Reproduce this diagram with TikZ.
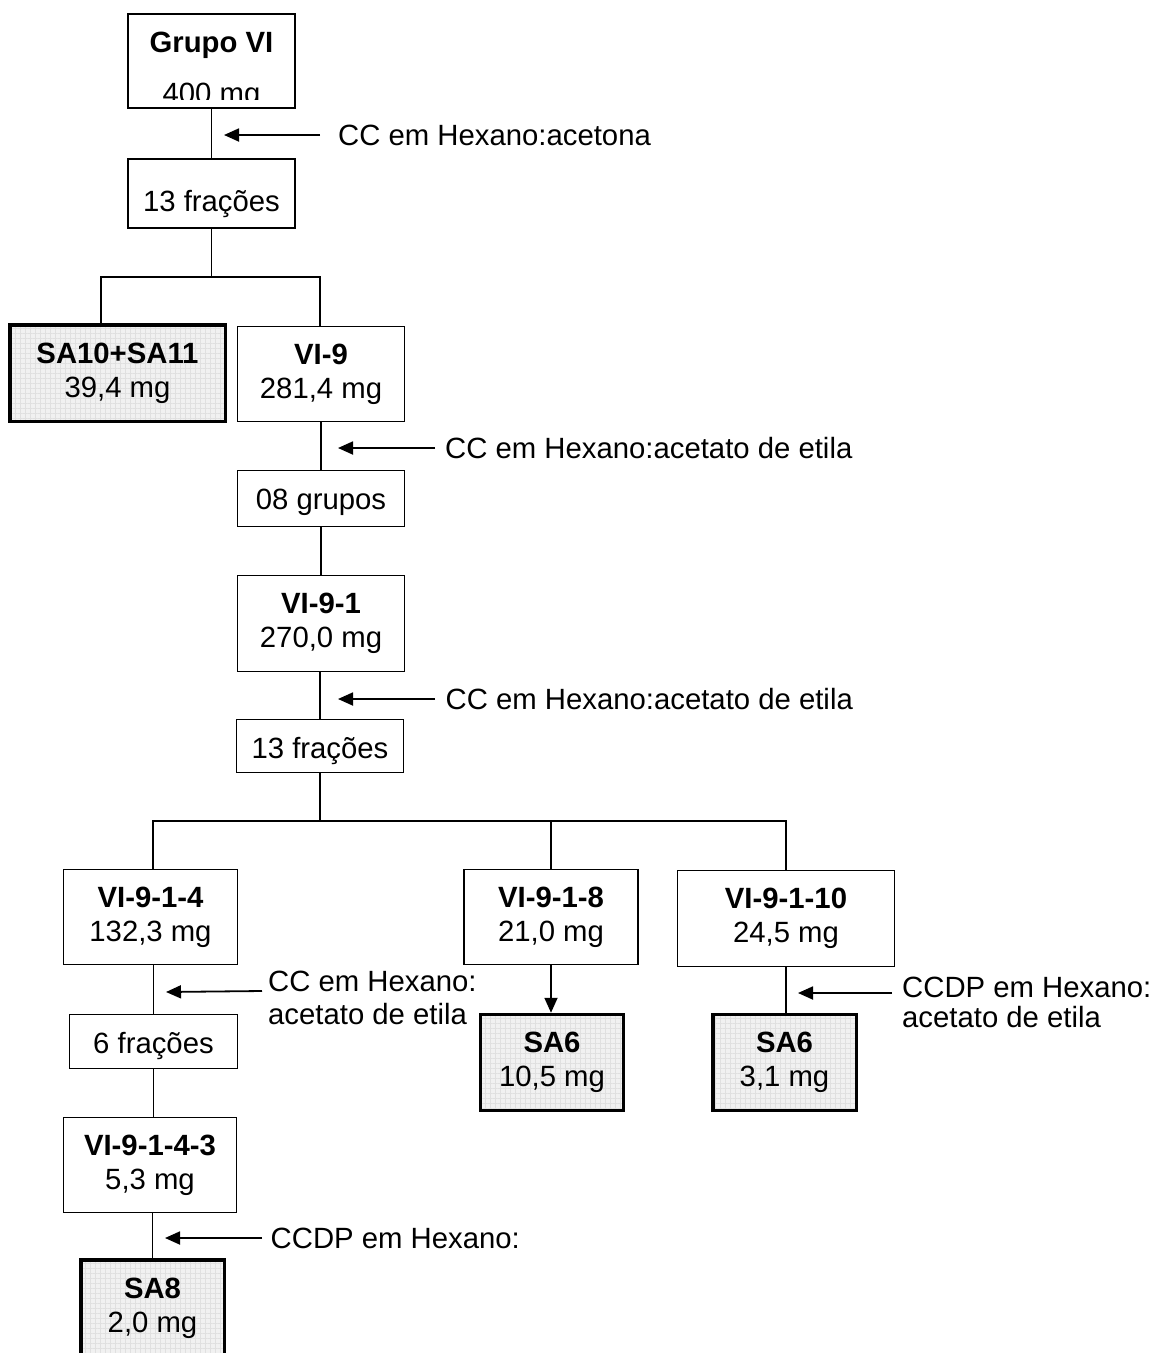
\documentclass[tikz,border=0pt]{standalone}
\usepackage{fontspec}
\setmainfont{Liberation Sans}
\usetikzlibrary{arrows.meta,patterns.meta}
\begin{document}
\begin{tikzpicture}[x=1pt,y=-1pt,
  font=\fontsize{29.3}{34}\selectfont,
  conn/.style={line width=1.8pt},
  arr/.style={line width=1.8pt,-{Triangle[length=15pt,width=13pt]}},
  box/.style={draw=black,line width=1.8pt,fill=white,inner sep=0pt,align=center},
  onel/.style={text depth=0pt},
  result/.style={draw=black,line width=3.5pt,inner sep=0pt,align=center,
    preaction={fill=gray!11},
    preaction={pattern={Lines[angle=0,distance=5pt,line width=0.5pt]},pattern color=gray!24},
    preaction={pattern={Lines[angle=90,distance=5pt,line width=0.5pt]},pattern color=gray!24}},
  lab/.style={inner ysep=0pt,text height=21pt,text depth=0pt,anchor=west},
  lab2/.style={inner ysep=0pt,anchor=base west}]
\useasboundingbox (0,0) rectangle (1155,1353);
\clip (0,0) rectangle (1155,1353);
\fill[white] (0,0) rectangle (1155,1353);

% top box
\node[box,minimum width=167pt,minimum height=94pt] (g6) at (211.5,61) {};
\node[anchor=base,inner sep=0pt] (g6t) at (211.5,52) {\textbf{Grupo VI}};
\begin{scope}
  \clip (128,14) rectangle (295,99);
  \node[anchor=base,inner sep=0pt] (g6m) at (211.5,103) {400 mg};
\end{scope}

\node[box,onel,text height=36pt,minimum width=167pt,minimum height=69pt] (f1) at (211.5,193.5) {13 frações};
\draw[conn] (g6.south) -- (g6.south |- f1.north);

\coordinate (t1) at (224,135);
\node[lab,inner xsep=18pt] (l1) at (320,135) {CC em Hexano:acetona};
\draw[arr] (l1.west) -- (t1);

\node[result,minimum width=215.5pt,minimum height=96.5pt] (sa1011) at (117.5,373) {\textbf{SA10+SA11}\\39,4 mg};
\node[box,minimum width=167pt,minimum height=95pt] (vi9) at (321,374) {\textbf{VI-9}\\281,4 mg};

\coordinate (j1l) at (101,277);
\coordinate (j1r) at (320,277);
\draw[conn] (f1.south) -- (f1.south |- j1l);
\draw[conn] (j1l |- sa1011.north) -- (j1l) -- (j1r) -- (j1r |- vi9.north);

\node[box,onel,text height=21pt,minimum width=167pt,minimum height=56pt] (g08) at (321,498.5) {08 grupos};
\draw[conn] (vi9.south) -- (vi9.south |- g08.north);
\coordinate (t2) at (338,448);
\node[lab,inner xsep=10pt] (l2) at (435,448) {CC em Hexano:acetato de etila};
\draw[arr] (l2.west) -- (t2);

\node[box,minimum width=167pt,minimum height=96pt] (vi91) at (321,623.5) {\textbf{VI-9-1}\\270,0 mg};
\draw[conn] (g08.south) -- (vi91.north);

\node[box,onel,text height=25pt,minimum width=167pt,minimum height=53pt] (f2) at (320,746) {13 frações};
\draw[conn] (vi91.south -| f2.north) -- (f2.north);
\coordinate (t3) at (338,699);
\node[lab,inner xsep=10.5pt] (l3) at (435,699) {CC em Hexano:acetato de etila};
\draw[arr] (l3.west) -- (t3);

\node[box,minimum width=174pt,minimum height=95pt] (vi914) at (150.5,917) {\textbf{VI-9-1-4}\\132,3 mg};
\node[box,minimum width=174pt,minimum height=95pt] (vi918) at (551,917) {\textbf{VI-9-1-8}\\21,0 mg};
\node[box,minimum width=217pt,minimum height=96pt] (vi9110) at (786,918.5) {\textbf{VI-9-1-10}\\24,5 mg};

\coordinate (j2a) at (153,821);
\coordinate (j2b) at (551,821);
\coordinate (j2c) at (786,821);
\draw[conn] (f2.south) -- (f2.south |- j2a);
\draw[conn] (j2a |- vi914.north) -- (j2a) -- (j2c) -- (j2c |- vi9110.north);
\draw[conn] (j2b) -- (j2b |- vi918.north);

\node[box,onel,text height=24pt,minimum width=168pt,minimum height=54pt] (f3) at (153.5,1041.5) {6 frações};
\draw[conn] (f3.north |- vi914.south) -- (f3.north);
\coordinate (t4) at (166,992);
\node[lab2,inner xsep=6pt] (l4a) at (262,991) {CC em Hexano:};
\node[lab2,inner xsep=6pt] (l4b) at (262,1024) {acetato de etila};
\draw[arr] (l4a.base west) -- (t4);

\node[result,minimum width=143pt,minimum height=96pt] (sa6a) at (552,1062.5) {\textbf{SA6}\\10,5 mg};
\draw[arr] (vi918.south) -- (vi918.south |- sa6a.north);

\node[result,minimum width=143.5pt,minimum height=96pt] (sa6b) at (784.5,1062.5) {\textbf{SA6}\\3,1 mg};
\draw[conn] (vi9110.south) -- (vi9110.south |- sa6b.north);
\coordinate (t5) at (798,993);
\node[lab2,inner xsep=10pt] (l5a) at (892,997) {CCDP em Hexano:};
\node[lab2,inner xsep=10pt] (l5b) at (892,1027) {acetato de etila};
\draw[arr] ([yshift=4pt]l5a.base west) -- (t5);

\node[box,minimum width=173pt,minimum height=95pt] (vi91443) at (150,1165) {\textbf{VI-9-1-4-3}\\5,3 mg};
\draw[conn] (f3.south) -- (f3.south |- vi91443.north);

\node[result,minimum width=143.5pt,minimum height=96pt] (sa8) at (152.5,1308) {\textbf{SA8}\\2,0 mg};
\draw[conn] (sa8.north |- vi91443.south) -- (sa8.north);
\coordinate (t6) at (165,1238);
\node[lab,inner xsep=8.5pt] (l6) at (262,1238) {CCDP em Hexano:};
\draw[arr] (l6.west) -- (t6);
\end{tikzpicture}
\end{document}
